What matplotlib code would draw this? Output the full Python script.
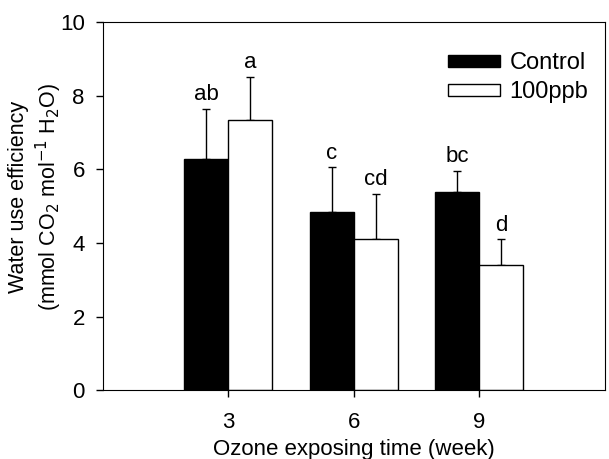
import matplotlib
matplotlib.use("Agg")
import matplotlib.pyplot as plt
import numpy as np

plt.rcParams['font.family'] = ['Liberation Sans', 'DejaVu Sans']

# === Data ===
weeks = [3, 6, 9]
control = [6.28, 4.84, 5.39]
control_err = [1.36, 1.21, 0.57]
ozone = [7.33, 4.10, 3.39]
ozone_err = [1.18, 1.23, 0.71]
control_letters = ["ab", "c", "bc"]
ozone_letters = ["a", "cd", "d"]

fig = plt.figure(figsize=(6.09, 4.59), dpi=100)
ax = fig.add_axes([0.169, 0.150, 0.824, 0.802])

w = 1.05
x = np.array(weeks, dtype=float)
zeros = np.zeros(len(weeks))

ax.bar(x - w / 2, control, width=w, color='black', edgecolor='black', linewidth=1, label='Control', zorder=2)
ax.bar(x + w / 2, ozone, width=w, color='white', edgecolor='black', linewidth=1, label='100ppb', zorder=2)
ax.errorbar(x - w / 2, control, yerr=[zeros, control_err], fmt='none', ecolor='black', elinewidth=1, capsize=3, capthick=1, zorder=1)
ax.errorbar(x + w / 2, ozone, yerr=[zeros, ozone_err], fmt='none', ecolor='black', elinewidth=1, capsize=3, capthick=1, zorder=1)

# letras de significancia
for xi, v, e, t in zip(x - w / 2, control, control_err, control_letters):
    ax.text(xi, v + e + 0.1, t, ha='center', va='bottom', fontsize=16)
for xi, v, e, t in zip(x + w / 2, ozone, ozone_err, ozone_letters):
    ax.text(xi, v + e + 0.1, t, ha='center', va='bottom', fontsize=16)

ax.set_xlim(0, 12)
ax.set_ylim(0, 10)
ax.set_xticks(weeks)
ax.set_yticks([0, 2, 4, 6, 8, 10])
ax.tick_params(axis='both', labelsize=16, direction='out', length=5, width=1)
ax.tick_params(axis='x', pad=11)
ax.tick_params(axis='y', pad=8)

ax.set_xlabel('Ozone exposing time (week)', fontsize=16, labelpad=4)
ax.set_ylabel('Water use efficiency\n(mmol CO$_2$ mol$^{-1}$ H$_2$O)', fontsize=15.5)
ax.yaxis.set_label_coords(-0.078, 0.524)

ax.legend(loc='upper left', bbox_to_anchor=(0.645, 0.975), frameon=False, fontsize=17,
          handlelength=2.2, handleheight=0.42, handletextpad=0.42, labelspacing=0.28)

fig.savefig('out.png', dpi=100)
